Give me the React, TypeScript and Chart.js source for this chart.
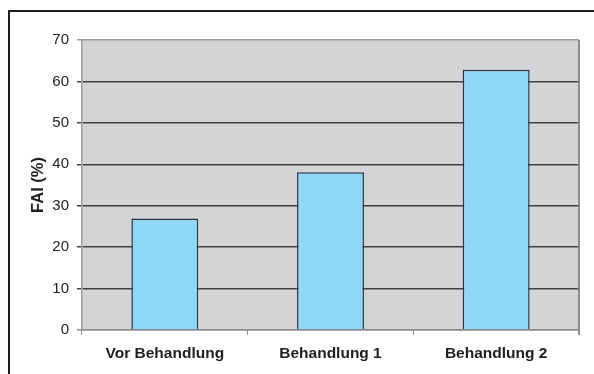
import React, { useEffect, useRef } from "react";
import { Chart, registerables } from "chart.js";

Chart.register(...registerables);

// FAI (%) before and after treatment
const categories = ["Vor Behandlung", "Behandlung 1", "Behandlung 2"];
const faiValues = [26.9, 38.1, 62.8];
const yTicks = { min: 0, max: 70, step: 10 };
const yTitle = "FAI (%)";

const FONT = "'Liberation Sans', Arial, Helvetica, sans-serif";

// Grey plot backdrop plus the right-hand frame of the plot area
const plotBackground = {
  id: "plotBackground",
  beforeDraw(chart: any) {
    const { ctx, chartArea } = chart;
    if (!chartArea) return;
    ctx.save();
    ctx.fillStyle = "#d3d4d6";
    ctx.fillRect(chartArea.left, chartArea.top, chartArea.right - chartArea.left, chartArea.bottom - chartArea.top);
    ctx.restore();
  },
  afterDraw(chart: any) {
    const { ctx, chartArea } = chart;
    if (!chartArea) return;
    ctx.save();
    ctx.strokeStyle = "#8c8c8e";
    ctx.lineWidth = 2;
    ctx.beginPath();
    ctx.moveTo(chartArea.right, chartArea.top);
    ctx.lineTo(chartArea.right, chartArea.bottom + 5);
    ctx.stroke();
    ctx.restore();
  },
};

export default function App() {
  const canvasRef = useRef<HTMLCanvasElement | null>(null);

  useEffect(() => {
    document.body.style.margin = "0";
    const canvas = canvasRef.current;
    if (!canvas) return;
    const chart = new Chart(canvas, {
      type: "bar",
      data: {
        labels: categories,
        datasets: [
          {
            data: faiValues,
            backgroundColor: "#8ed8f6",
            borderColor: "#27363f",
            borderWidth: 1.5,
            categoryPercentage: 0.404,
            barPercentage: 1,
          },
        ],
      },
      options: {
        responsive: false,
        animation: false,
        events: [],
        layout: { padding: { left: 0, top: 40, right: 15, bottom: 0 } },
        plugins: {
          legend: { display: false },
          tooltip: { enabled: false },
          title: { display: false },
        },
        scales: {
          x: {
            grid: {
              display: true,
              drawOnChartArea: false,
              drawTicks: true,
              tickLength: 5,
              color: "#8c8c8e",
              lineWidth: 1,
            },
            border: { display: true, color: "#8c8c8e", width: 1.5 },
            ticks: {
              color: "#1e1e1e",
              font: { family: FONT, size: 15.5, weight: "bold" },
              padding: 9,
              maxRotation: 0,
              autoSkip: false,
            },
            afterFit(scale: any) {
              scale.height = 44;
            },
          },
          y: {
            min: yTicks.min,
            max: yTicks.max,
            ticks: {
              stepSize: yTicks.step,
              color: "#1e1e1e",
              font: { family: FONT, size: 15 },
              padding: 8,
            },
            grid: {
              drawTicks: true,
              tickLength: 5,
              color: (c: any) => {
                const v = c.tick ? c.tick.value : null;
                if (v === yTicks.max) return "#9a9a9c";
                if (v === yTicks.min) return "#8c8c8e";
                return "#404040";
              },
              lineWidth: 1.5,
            },
            border: { display: true, color: "#9a9a9c", width: 1.5 },
            title: {
              display: true,
              text: yTitle,
              color: "#1e1e1e",
              font: { family: FONT, size: 16.5, weight: "bold" },
              padding: { top: 29, bottom: 0 },
            },
            afterFit(scale: any) {
              scale.width = 82;
            },
          },
        },
      },
      plugins: [plotBackground],
    });
    return () => chart.destroy();
  }, []);

  return (
    <div style={{ position: "relative", width: 594, height: 374, overflow: "hidden", background: "#ffffff" }}>
      <div
        style={{
          position: "absolute",
          left: 8,
          top: 10,
          width: 620,
          height: 400,
          borderTop: "2px solid #1c1c1c",
          borderLeft: "2px solid #1c1c1c",
        }}
      />
      <canvas
        ref={canvasRef}
        width={594}
        height={374}
        style={{ position: "absolute", left: 0, top: 0, width: 594, height: 374 }}
      />
    </div>
  );
}
